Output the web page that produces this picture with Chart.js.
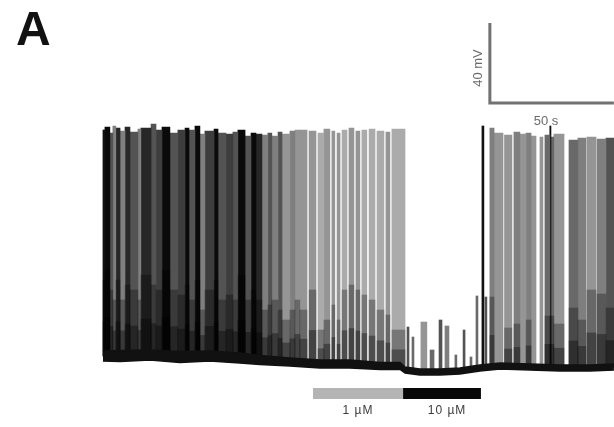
<!DOCTYPE html>
<html><head><meta charset="utf-8">
<script src="https://cdn.jsdelivr.net/npm/chart.js@4"></script>
<style>html,body{margin:0;padding:0;background:#fff}canvas{display:block}</style>
</head><body>
<canvas id="c" width="614" height="427" style="width:614px;height:427px"></canvas>
<script>
// ---- data: time in s, membrane potential in mV ----
const burstStart = [0.0,0.8,2.8,4.0,5.2,6.9,8.9,10.9,14.1,15.3,19.4,21.4,23.8,27.0,30.2,33.1,34.7,37.1,39.1,41.1,44.8,46.4,49.6,52.4,54.4,57.3,59.7,61.7,64.1,66.5,68.1,70.6,72.2,75.4,77.4,
  79.4,83.1,86.7,89.1,92.3,94.4,96.4,99.2,102.0,104.4,107.3,110.5,114.1,116.5,
  122.6,124.6,128.2,131.9,135.5,137.9,141.9,145.2,148.0,150.4,152.8,154.0,
  156.0,157.7,161.9,165.7,168.1,170.6,172.6,176.2,178.2,180.2,180.6,181.8,187.9,191.5,195.1,199.2,202.8];
const burstEnd = [0.8,2.8,4.0,5.2,6.9,8.9,10.9,14.1,15.3,19.4,21.4,23.8,27.0,30.2,33.1,34.7,37.1,39.1,41.1,44.8,46.4,49.6,52.4,54.4,57.3,59.7,61.7,64.1,66.5,68.1,70.6,72.2,75.4,77.4,79.4,
  82.3,85.9,89.1,91.5,93.5,95.6,98.4,101.2,103.6,106.4,109.7,113.3,115.7,121.8,
  123.4,125.4,130.6,133.5,136.7,139.5,142.7,146.0,148.8,151.2,153.6,154.8,
  157.7,161.3,164.9,168.1,170.6,172.6,174.6,177.4,180.2,180.6,181.8,185.9,191.5,194.7,198.8,202.8,206.0];
const burstPeak = [49,50.5,47.5,51,50,48.5,50.5,48,49.5,50,52,49,50.5,47.5,49,50,49,51,47,48.5,49.5,47.5,47,48,49,46,47.5,47,46.5,47.5,46,48,47,48.5,49,
  49,48.5,47.5,49.5,48.5,47.5,49,50,48.5,49,49.5,48.5,48,49.5,
  -49.5,-54.5,-47,-61,-46,-49,-63.5,-51,-64.5,-34,51,-34.5,
  50,47.5,46.5,48,47,47.5,46,45.5,46.5,51,45.5,47,44,45,45.5,44.5,45];
// estimated number of overlapping spikes in each burst (darkness of the band)
const burstSpikes = [9,10,6,4,8,4,8,6,4,8,6,7,10,6,7,10,6,10,4,7,10,6,7,6,10,6,10,8,4,6,4,6,3,4,3,
  3,3,2,3,3,3,2,3,3,2,2,2,3,2,
  6,5,3,5,6,4,5,6,5,5,9,6,
  4,3,3,4,3,4,3,3,5,9,5,3,5,4,3,4,6];
// top of the dense sub-threshold / partial-spike part of each burst
const burstPlateau = [-26,-21,-31,-36,-26,-36,-28.5,-31,-36,-23.5,-28.5,-31,-21,-31,-33.5,-28.5,-36,-26,-41,-31,-26,-36,-33.5,-36,-23.5,-36,-31,-36,-41,-38.5,-36,-41,-46,-41,-36,
  -41,-31,-51,-46,-38.5,-46,-31,-28.5,-31,-33.5,-36,-41,-43.5,-51,
  null,null,null,null,null,null,null,null,null,null,null,null,
  -34.5,null,-50,-48,null,-46,null,null,-44,-44,-44,-48,-40,-46,-31,-33,-40];
const baselineTime = [0.0,6.9,19.0,31.0,43.1,55.2,63.3,75.4,87.5,99.6,111.7,119.8,121.8,127.8,135.9,143.9,152.0,160.1,172.2,184.3,196.4,206.0];
const baselineMv = [-64,-64,-63.5,-64.5,-64,-65,-66,-67,-68,-68,-69,-69,-71,-72,-72,-71.5,-70,-69,-69.5,-70,-70,-69.5];
const baselineNoise = [5,5.5,5,5.5,5,5,4.5,4,4,4,3.5,3.5,3,3,3,3,3,3,3,3,3,3];
const scaleBarSeconds = 50;
const scaleBarMillivolts = 40;
const drugLabels = ['1 µM', '10 µM'];
const drugStart = [84.7, 121.0];
const drugEnd = [121.0, 152.4];

// ---- layout ----
const X_MIN = -41.5, X_MAX = 206.05, Y_MIN = -99.5, Y_MAX = 114;
const W = 614;
const pxPerSec = W / (X_MAX - X_MIN);
const SCALE_X0 = 156.0, SCALE_Y0 = 62.5;
const DRUG_LEVEL = -82.75;
const DRUG_COLORS = ['#b4b4b4', '#080808'];

function baselineAt(t) {
  for (let i = 0; i < baselineTime.length - 1; i++) {
    if (t <= baselineTime[i + 1]) {
      const f = (t - baselineTime[i]) / (baselineTime[i + 1] - baselineTime[i]);
      return baselineMv[i] + f * (baselineMv[i + 1] - baselineMv[i]);
    }
  }
  return baselineMv[baselineMv.length - 1];
}
function shade(n) {
  const g = Math.max(10, Math.round(215 - 22 * n));
  return `rgb(${g},${g},${g})`;
}

const datasets = [];
// baseline noise envelope (on top)
datasets.push({
  type: 'line', order: 0,
  data: baselineTime.map((t, i) => ({ x: t, y: baselineMv[i] + baselineNoise[i] / 2 })),
  borderColor: '#111', backgroundColor: '#111', borderWidth: 1.5, pointRadius: 0, tension: 0, fill: '+1'
});
datasets.push({
  type: 'line', order: 0,
  data: baselineTime.map((t, i) => ({ x: t, y: baselineMv[i] - baselineNoise[i] / 2 })),
  borderColor: '#111', borderWidth: 1.5, pointRadius: 0, tension: 0, fill: false
});
// scale bars
datasets.push({
  type: 'line', order: 0,
  data: [{ x: SCALE_X0, y: SCALE_Y0 + scaleBarMillivolts }, { x: SCALE_X0, y: SCALE_Y0 }, { x: SCALE_X0 + scaleBarSeconds, y: SCALE_Y0 }],
  borderColor: '#727272', borderWidth: 3, pointRadius: 0, tension: 0, fill: false, borderJoinStyle: 'miter'
});
// drug application bars
drugStart.forEach((s, i) => {
  datasets.push({
    type: 'line', order: 0,
    data: [{ x: s, y: DRUG_LEVEL }, { x: drugEnd[i], y: DRUG_LEVEL }],
    borderColor: DRUG_COLORS[i], borderWidth: 11, borderCapStyle: 'butt', pointRadius: 0, fill: false
  });
});
// bursts of spikes
burstStart.forEach((s, i) => {
  const e = burstEnd[i], mid = (s + e) / 2, base = baselineAt(mid);
  const width = Math.max(1.2, (e - s) * pxPerSec);
  datasets.push({
    type: 'bar', order: 3, grouped: false,
    data: [{ x: mid, y: [base, burstPeak[i]] }],
    backgroundColor: shade(burstSpikes[i]), borderWidth: 0, barThickness: width
  });
  if (burstPlateau[i] !== null) {
    const p = burstPlateau[i];
    datasets.push({
      type: 'bar', order: 2, grouped: false,
      data: [{ x: mid, y: [base, p] }],
      backgroundColor: 'rgba(0,0,0,0.3)', borderWidth: 0, barThickness: width
    });
    datasets.push({
      type: 'bar', order: 1, grouped: false,
      data: [{ x: mid, y: [base, base + (p - base) * 0.45] }],
      backgroundColor: 'rgba(0,0,0,0.35)', borderWidth: 0, barThickness: width
    });
  }
});

const textPlugin = {
  id: 'labels',
  afterDraw(chart) {
    const c = chart.ctx;
    c.save();
    c.fillStyle = '#111';
    c.font = 'bold 48px "Liberation Sans", Arial, sans-serif';
    c.textAlign = 'left'; c.textBaseline = 'alphabetic';
    c.fillText('A', 16, 45);
    c.font = '13px "Liberation Sans", Arial, sans-serif';
    c.fillStyle = '#6a6a6a';
    c.textAlign = 'center'; c.textBaseline = 'middle';
    c.fillText(scaleBarSeconds + ' s', 546, 121);
    c.save();
    c.translate(478, 68); c.rotate(-Math.PI / 2);
    c.fillText(scaleBarMillivolts + ' mV', 0, 0);
    c.restore();
    c.fillStyle = '#3a3a3a';
    c.font = '12px "Liberation Sans", Arial, sans-serif';
    try { c.letterSpacing = '1px'; } catch (err) {}
    c.fillText(drugLabels[0], 358, 411);
    c.fillText(drugLabels[1], 447, 411);
    c.restore();
  }
};

new Chart(document.getElementById('c'), {
  data: { datasets },
  options: {
    responsive: false, animation: false, devicePixelRatio: 1,
    layout: { padding: 0 },
    plugins: { legend: { display: false }, tooltip: { enabled: false } },
    scales: {
      x: { type: 'linear', min: X_MIN, max: X_MAX, display: false, offset: false, grid: { offset: false } },
      y: { type: 'linear', min: Y_MIN, max: Y_MAX, display: false }
    }
  },
  plugins: [textPlugin]
});
</script>
</body></html>
